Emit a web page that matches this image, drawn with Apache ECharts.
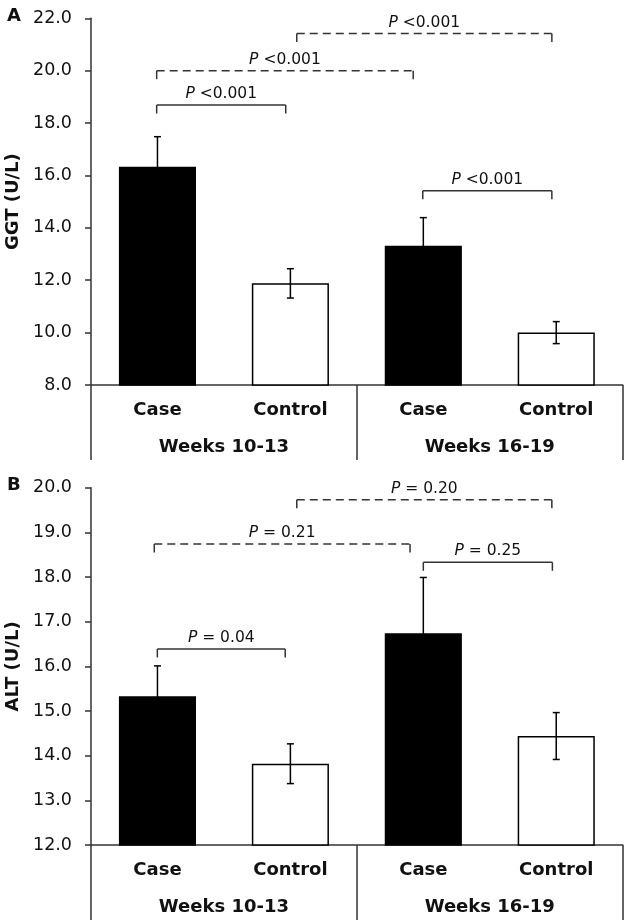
<!DOCTYPE html>
<html>
<head>
<meta charset="utf-8">
<script src="https://cdn.jsdelivr.net/npm/echarts@6/dist/echarts.min.js"></script>
<style>
html,body{margin:0;padding:0;background:#fff;}
#chart{width:630px;height:923px;}
</style>
</head>
<body>
<div id="chart"></div>
<script>
// ---- data ----
const categories = ['Case', 'Control', 'Case', 'Control'];
const groups = ['Weeks 10-13', 'Weeks 16-19'];

const ggtMean = [16.33, 11.88, 13.32, 10.0];
const ggtErr = [1.15, 0.56, 1.07, 0.42];
const altMean = [15.33, 13.82, 16.74, 14.44];
const altErr = [0.68, 0.445, 1.25, 0.525];

const ggtTickLabels = ['8.0', '10.0', '12.0', '14.0', '16.0', '18.0', '20.0', '22.0'];
const altTickLabels = ['12.0', '13.0', '14.0', '15.0', '16.0', '17.0', '18.0', '19.0', '20.0'];

// significance brackets (x in category units from left edge, y in data units)
const ggtBrX1 = [0.494, 0.494, 1.548, 2.496];
const ggtBrX2 = [1.465, 2.424, 3.467, 3.467];
const ggtBrY = [18.69, 20.0, 21.42, 15.42];
const ggtBrDashed = [false, true, true, false];
const ggtBrText = ['P <0.001', 'P <0.001', 'P <0.001', 'P <0.001'];

const altBrX1 = [0.476, 1.548, 2.50, 0.499];
const altBrX2 = [2.40, 3.467, 3.471, 1.461];
const altBrY = [18.74, 19.73, 18.33, 16.39];
const altBrDashed = [true, true, false, false];
const altBrText = ['P = 0.21', 'P = 0.20', 'P = 0.25', 'P = 0.04'];

// ---- styling ----
const FONT = 'DejaVu Sans';
const AXIS_COLOR = '#333';
const LINE_COLOR = '#333';

function barData(means) {
  return means.map((v, i) => ({
    value: v,
    itemStyle: {
      color: i % 2 === 0 ? '#000' : '#fff',
      borderColor: '#000',
      borderWidth: 1.5
    }
  }));
}

function errRender(params, api) {
  const x = api.value(0);
  const lo = api.coord([x, api.value(1)]);
  const hi = api.coord([x, api.value(2)]);
  const cap = 3.5;
  const st = { stroke: '#000', lineWidth: 1.5 };
  return {
    type: 'group',
    children: [
      { type: 'line', shape: { x1: hi[0], y1: hi[1], x2: lo[0], y2: lo[1] }, style: st },
      { type: 'line', shape: { x1: hi[0] - cap, y1: hi[1], x2: hi[0] + cap, y2: hi[1] }, style: st },
      { type: 'line', shape: { x1: lo[0] - cap, y1: lo[1], x2: lo[0] + cap, y2: lo[1] }, style: st }
    ]
  };
}

function bracketRender(x1s, x2s, ys, dashed, texts) {
  return function (params, api) {
    const i = params.dataIndex;
    const c0 = api.coord([0, ys[i]]);
    const bw = api.size([1, 0])[0];
    const left = c0[0] - bw / 2;
    const xa = left + x1s[i] * bw;
    const xb = left + x2s[i] * bw;
    const y = c0[1];
    const leg = 8.5;
    const lineStyle = { stroke: LINE_COLOR, lineWidth: 1.5 };
    const mainStyle = dashed[i]
      ? { stroke: LINE_COLOR, lineWidth: 1.5, lineDash: [8, 5] }
      : lineStyle;
    const txt = texts[i].replace(/^P/, '{i|P}');
    return {
      type: 'group',
      children: [
        { type: 'line', shape: { x1: xa, y1: y, x2: xb, y2: y }, style: mainStyle },
        { type: 'line', shape: { x1: xa, y1: y, x2: xa, y2: y + leg }, style: lineStyle },
        { type: 'line', shape: { x1: xb, y1: y, x2: xb, y2: y + leg }, style: lineStyle },
        {
          type: 'text',
          style: {
            x: (xa + xb) / 2, y: y - 11,
            text: txt,
            align: 'center', verticalAlign: 'middle',
            fontFamily: FONT, fontSize: 15.5, fill: '#111',
            rich: { i: { fontStyle: 'italic', fontFamily: FONT, fontSize: 15.5, fill: '#111' } }
          }
        }
      ]
    };
  };
}

function yAxisDef(gridIndex, name, min, max, interval, tickLabels) {
  return {
    type: 'value', gridIndex: gridIndex, min: min, max: max, interval: interval,
    name: name, nameLocation: 'middle', nameGap: 62, nameRotate: 90,
    nameTextStyle: { fontFamily: FONT, fontWeight: 'bold', fontSize: 18, color: '#111' },
    axisLine: { show: true, lineStyle: { color: AXIS_COLOR, width: 1.5 } },
    axisTick: { show: true, inside: false, length: 6, lineStyle: { color: AXIS_COLOR, width: 1.5 } },
    splitLine: { show: false },
    axisLabel: {
      margin: 19, fontFamily: FONT, fontSize: 17.5, color: '#111',
      formatter: function (v) { return tickLabels[Math.round((v - min) / interval)]; }
    }
  };
}

function xAxisDefs(gridIndex) {
  return [
    {
      type: 'category', gridIndex: gridIndex, data: categories, position: 'bottom',
      axisLine: { show: true, lineStyle: { color: AXIS_COLOR, width: 1.5 } },
      axisTick: { show: false },
      axisLabel: { margin: 16, fontFamily: FONT, fontWeight: 'bold', fontSize: 18, color: '#111' }
    },
    {
      type: 'category', gridIndex: gridIndex, data: groups, position: 'bottom',
      axisLine: { show: false },
      axisTick: { show: true, interval: 0, length: 75, lineStyle: { color: AXIS_COLOR, width: 1.5 } },
      axisLabel: { margin: 53, interval: 0, fontFamily: FONT, fontWeight: 'bold', fontSize: 18, color: '#111' }
    }
  ];
}

const chart = echarts.init(document.getElementById('chart'), null, { renderer: 'canvas' });
chart.setOption({
  animation: false,
  backgroundColor: '#fff',
  grid: [
    { left: 91, right: 7.3, top: 18.3, bottom: 538, outerBoundsMode: 'none', containLabel: false },
    { left: 91, right: 7.3, top: 487.7, bottom: 78, outerBoundsMode: 'none', containLabel: false }
  ],
  xAxis: xAxisDefs(0).concat(xAxisDefs(1)),
  yAxis: [
    yAxisDef(0, 'GGT (U/L)', 8, 22, 2, ggtTickLabels),
    yAxisDef(1, 'ALT (U/L)', 12, 20, 1, altTickLabels)
  ],
  graphic: [
    { type: 'text', left: 7, top: 7, style: { text: 'A', fontFamily: FONT, fontWeight: 'bold', fontSize: 18, fill: '#111' } },
    { type: 'text', left: 7, top: 476, style: { text: 'B', fontFamily: FONT, fontWeight: 'bold', fontSize: 18, fill: '#111' } }
  ],
  series: [
    { type: 'bar', xAxisIndex: 0, yAxisIndex: 0, barWidth: '58%', data: barData(ggtMean) },
    {
      type: 'custom', xAxisIndex: 0, yAxisIndex: 0, z: 5,
      data: categories.map((c, i) => [i, ggtMean[i] - ggtErr[i], ggtMean[i] + ggtErr[i]]),
      encode: { x: 0, y: [1, 2] },
      renderItem: errRender
    },
    {
      type: 'custom', xAxisIndex: 0, yAxisIndex: 0, z: 6, clip: false,
      data: ggtBrY.map(y => [0, y]),
      encode: { x: 0, y: 1 },
      renderItem: bracketRender(ggtBrX1, ggtBrX2, ggtBrY, ggtBrDashed, ggtBrText)
    },
    { type: 'bar', xAxisIndex: 2, yAxisIndex: 1, barWidth: '58%', data: barData(altMean) },
    {
      type: 'custom', xAxisIndex: 2, yAxisIndex: 1, z: 5,
      data: categories.map((c, i) => [i, altMean[i] - altErr[i], altMean[i] + altErr[i]]),
      encode: { x: 0, y: [1, 2] },
      renderItem: errRender
    },
    {
      type: 'custom', xAxisIndex: 2, yAxisIndex: 1, z: 6, clip: false,
      data: altBrY.map(y => [0, y]),
      encode: { x: 0, y: 1 },
      renderItem: bracketRender(altBrX1, altBrX2, altBrY, altBrDashed, altBrText)
    }
  ]
});
</script>
</body>
</html>
